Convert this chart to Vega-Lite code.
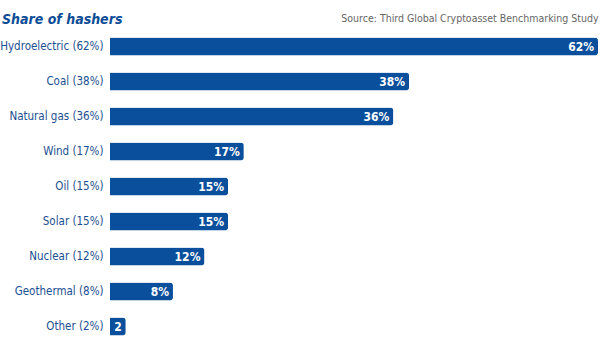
{
  "$schema": "https://vega.github.io/schema/vega-lite/v6.json",
  "autosize": "none",
  "width": 488,
  "height": 315,
  "padding": {"left": 110, "top": 29, "right": 2, "bottom": 15},
  "background": "white",
  "view": {"stroke": null},
  "title": {
    "text": "Share of hashers",
    "anchor": "start",
    "frame": "group",
    "dx": -108,
    "offset": -14,
    "font": "DejaVu Sans Condensed",
    "fontSize": 14,
    "fontWeight": "bold",
    "fontStyle": "italic",
    "color": "#0d4c96"
  },
  "data": {
    "values": [
      {"source": "Hydroelectric (62%)", "share": 62, "label": "62%"},
      {"source": "Coal (38%)", "share": 38, "label": "38%"},
      {"source": "Natural gas (36%)", "share": 36, "label": "36%"},
      {"source": "Wind (17%)", "share": 17, "label": "17%"},
      {"source": "Oil (15%)", "share": 15, "label": "15%"},
      {"source": "Solar (15%)", "share": 15, "label": "15%"},
      {"source": "Nuclear (12%)", "share": 12, "label": "12%"},
      {"source": "Geothermal (8%)", "share": 8, "label": "8%"},
      {"source": "Other (2%)", "share": 2, "label": "2"}
    ]
  },
  "encoding": {
    "y": {
      "field": "source",
      "type": "nominal",
      "sort": null,
      "scale": {"paddingInner": 0.48, "paddingOuter": 0.24},
      "axis": {
        "title": null,
        "domain": false,
        "ticks": false,
        "labelPadding": 7,
        "labelFont": "DejaVu Sans Condensed",
        "labelFontSize": 11.5,
        "labelColor": "#1b4f91"
      }
    },
    "x": {
      "field": "share",
      "type": "quantitative",
      "scale": {"domain": [0, 62], "nice": false},
      "axis": {
        "orient": "top",
        "title": "Source: Third Global Cryptoasset Benchmarking Study",
        "titleAnchor": "end",
        "titleFont": "DejaVu Sans Condensed",
        "titleFontSize": 10.5,
        "titleFontWeight": "normal",
        "titleColor": "#666666",
        "titlePadding": 6,
        "labels": false,
        "ticks": false,
        "domain": false,
        "grid": false
      }
    }
  },
  "layer": [
    {
      "mark": {"type": "bar", "color": "#0a4f9c", "cornerRadiusEnd": 3}
    },
    {
      "mark": {
        "type": "text",
        "align": "right",
        "baseline": "middle",
        "dx": -4,
        "color": "white",
        "font": "DejaVu Sans Condensed",
        "fontSize": 12,
        "fontWeight": "bold"
      },
      "encoding": {"text": {"field": "label"}}
    }
  ]
}
